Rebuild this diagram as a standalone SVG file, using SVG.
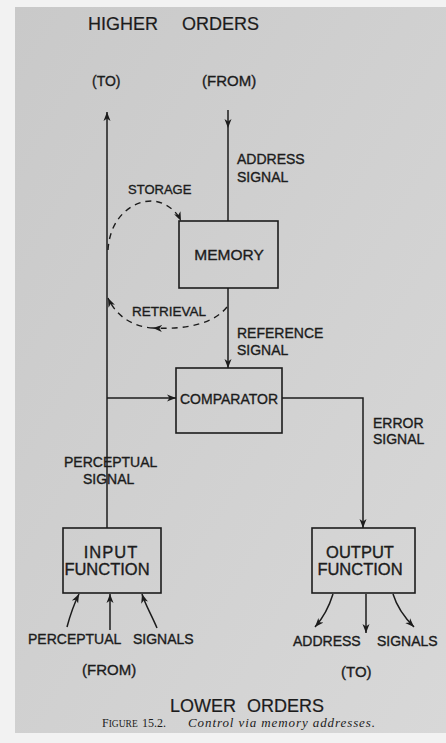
<svg xmlns="http://www.w3.org/2000/svg" width="446" height="743" viewBox="0 0 446 743">
<defs>
<linearGradient id="pg" x1="0" y1="0" x2="1" y2="1">
<stop offset="0" stop-color="#c9c9c9"/>
<stop offset="1" stop-color="#d8d8d8"/>
</linearGradient>
<marker id="ah" markerUnits="userSpaceOnUse" markerWidth="12" markerHeight="10" refX="9" refY="4" orient="auto" viewBox="0 0 12 8">
<path d="M0,0.5 L9,4 L0,7.5 L2.5,4 Z" fill="#1c1c1c"/>
</marker>
</defs>
<style>
.t{font-family:"Liberation Sans",Arial,sans-serif;fill:#1c1c1c;font-size:14px;stroke:#1c1c1c;stroke-width:0.35}
.big{font-size:16.5px}
.hd{font-size:18px;stroke-width:0.2}
.ln{fill:none;stroke:#1c1c1c;stroke-width:1.5}
.ds{fill:none;stroke:#1c1c1c;stroke-width:1.4;stroke-dasharray:6 5}
.box{fill:none;stroke:#1c1c1c;stroke-width:1.6}
.cap{font-family:"Liberation Serif","Times New Roman",serif;fill:#1c1c1c;font-size:12px}
</style>
<rect x="0" y="0" width="446" height="743" fill="#f2f2f2"/>
<rect x="15" y="7" width="431" height="726" fill="url(#pg)"/>

<g id="labels-top">
<text class="t hd" x="88" y="30">HIGHER</text>
<text class="t hd" x="182" y="30">ORDERS</text>
<text class="t" x="92" y="86">(TO)</text>
<text class="t" x="202" y="86" style="font-size:15px">(FROM)</text>
</g>

<g id="connectors">
<path class="ln" d="M107,528 L107,112" marker-end="url(#ah)"/>
<path class="ln" d="M228,110 L228,128 L228,221" marker-mid="url(#ah)"/>
<path class="ln" d="M228,288 L228,368" marker-end="url(#ah)"/>
<path class="ln" d="M107,398 L176,398" marker-end="url(#ah)"/>
<path class="ln" d="M282,398 L363,398 L363,528" marker-end="url(#ah)"/>
<path class="ds" d="M108,250 C110,215 135,200 153,201 C165,202 176,210 181,221" marker-end="url(#ah)"/>
<path class="ds" d="M227,307 C215,322 190,330 153,328" marker-end="url(#ah)"/>
<path class="ds" d="M153,328 C135,327 117,318 108,298" marker-end="url(#ah)"/>
<path class="ln" d="M67,627 C71,612 75,602 79,594" marker-end="url(#ah)"/>
<path class="ln" d="M110,630 L110,594" marker-end="url(#ah)"/>
<path class="ln" d="M157,628 C151,614 145,604 142,594" marker-end="url(#ah)"/>
<path class="ln" d="M333,594 C329,607 323,618 315,627" marker-end="url(#ah)"/>
<path class="ln" d="M366,594 L366,633" marker-end="url(#ah)"/>
<path class="ln" d="M393,594 C397,607 405,618 414,627" marker-end="url(#ah)"/>
</g>

<g id="edge-labels">
<text class="t" x="237" y="164">ADDRESS</text>
<text class="t" x="237" y="182">SIGNAL</text>
<text class="t" x="128" y="194" style="font-size:13px">STORAGE</text>
<text class="t" x="132" y="316" style="font-size:13.5px">RETRIEVAL</text>
<text class="t" x="237" y="338">REFERENCE</text>
<text class="t" x="237" y="355">SIGNAL</text>
<text class="t" x="373" y="428">ERROR</text>
<text class="t" x="373" y="444">SIGNAL</text>
<text class="t" x="64" y="467">PERCEPTUAL</text>
<text class="t" x="83" y="484">SIGNAL</text>
</g>

<g id="memory">
<rect class="box" x="179" y="221" width="99" height="67"/>
<text class="t" x="229" y="260" text-anchor="middle" style="font-size:15.5px">MEMORY</text>
</g>

<g id="comparator">
<rect class="box" x="176" y="368" width="106" height="65"/>
<text class="t" x="229" y="404" text-anchor="middle">COMPARATOR</text>
</g>

<g id="input-function">
<rect class="box" x="63" y="528" width="98" height="65"/>
<text class="t big" x="111" y="558" text-anchor="middle" letter-spacing="1">INPUT</text>
<text class="t big" x="107" y="575" text-anchor="middle">FUNCTION</text>
</g>

<g id="output-function">
<rect class="box" x="312" y="528" width="103" height="65"/>
<text class="t big" x="360" y="558" text-anchor="middle">OUTPUT</text>
<text class="t big" x="360" y="575" text-anchor="middle">FUNCTION</text>
</g>

<g id="labels-bottom">
<text class="t" x="28" y="644">PERCEPTUAL</text>
<text class="t" x="133" y="644">SIGNALS</text>
<text class="t" x="82" y="675" style="font-size:15px">(FROM)</text>
<text class="t" x="293" y="646">ADDRESS</text>
<text class="t" x="377" y="646">SIGNALS</text>
<text class="t" x="341" y="677" style="font-size:15px">(TO)</text>
<text class="t hd" x="170" y="712">LOWER</text>
<text class="t hd" x="247" y="712">ORDERS</text>
<text class="cap" x="102" y="727">F<tspan style="font-size:9.5px">IGURE</tspan><tspan x="142">15.2.</tspan></text>
<text class="cap" x="188" y="727" font-style="italic" style="font-size:13px" textLength="187" lengthAdjust="spacing">Control via memory addresses.</text>
</g>
</svg>
